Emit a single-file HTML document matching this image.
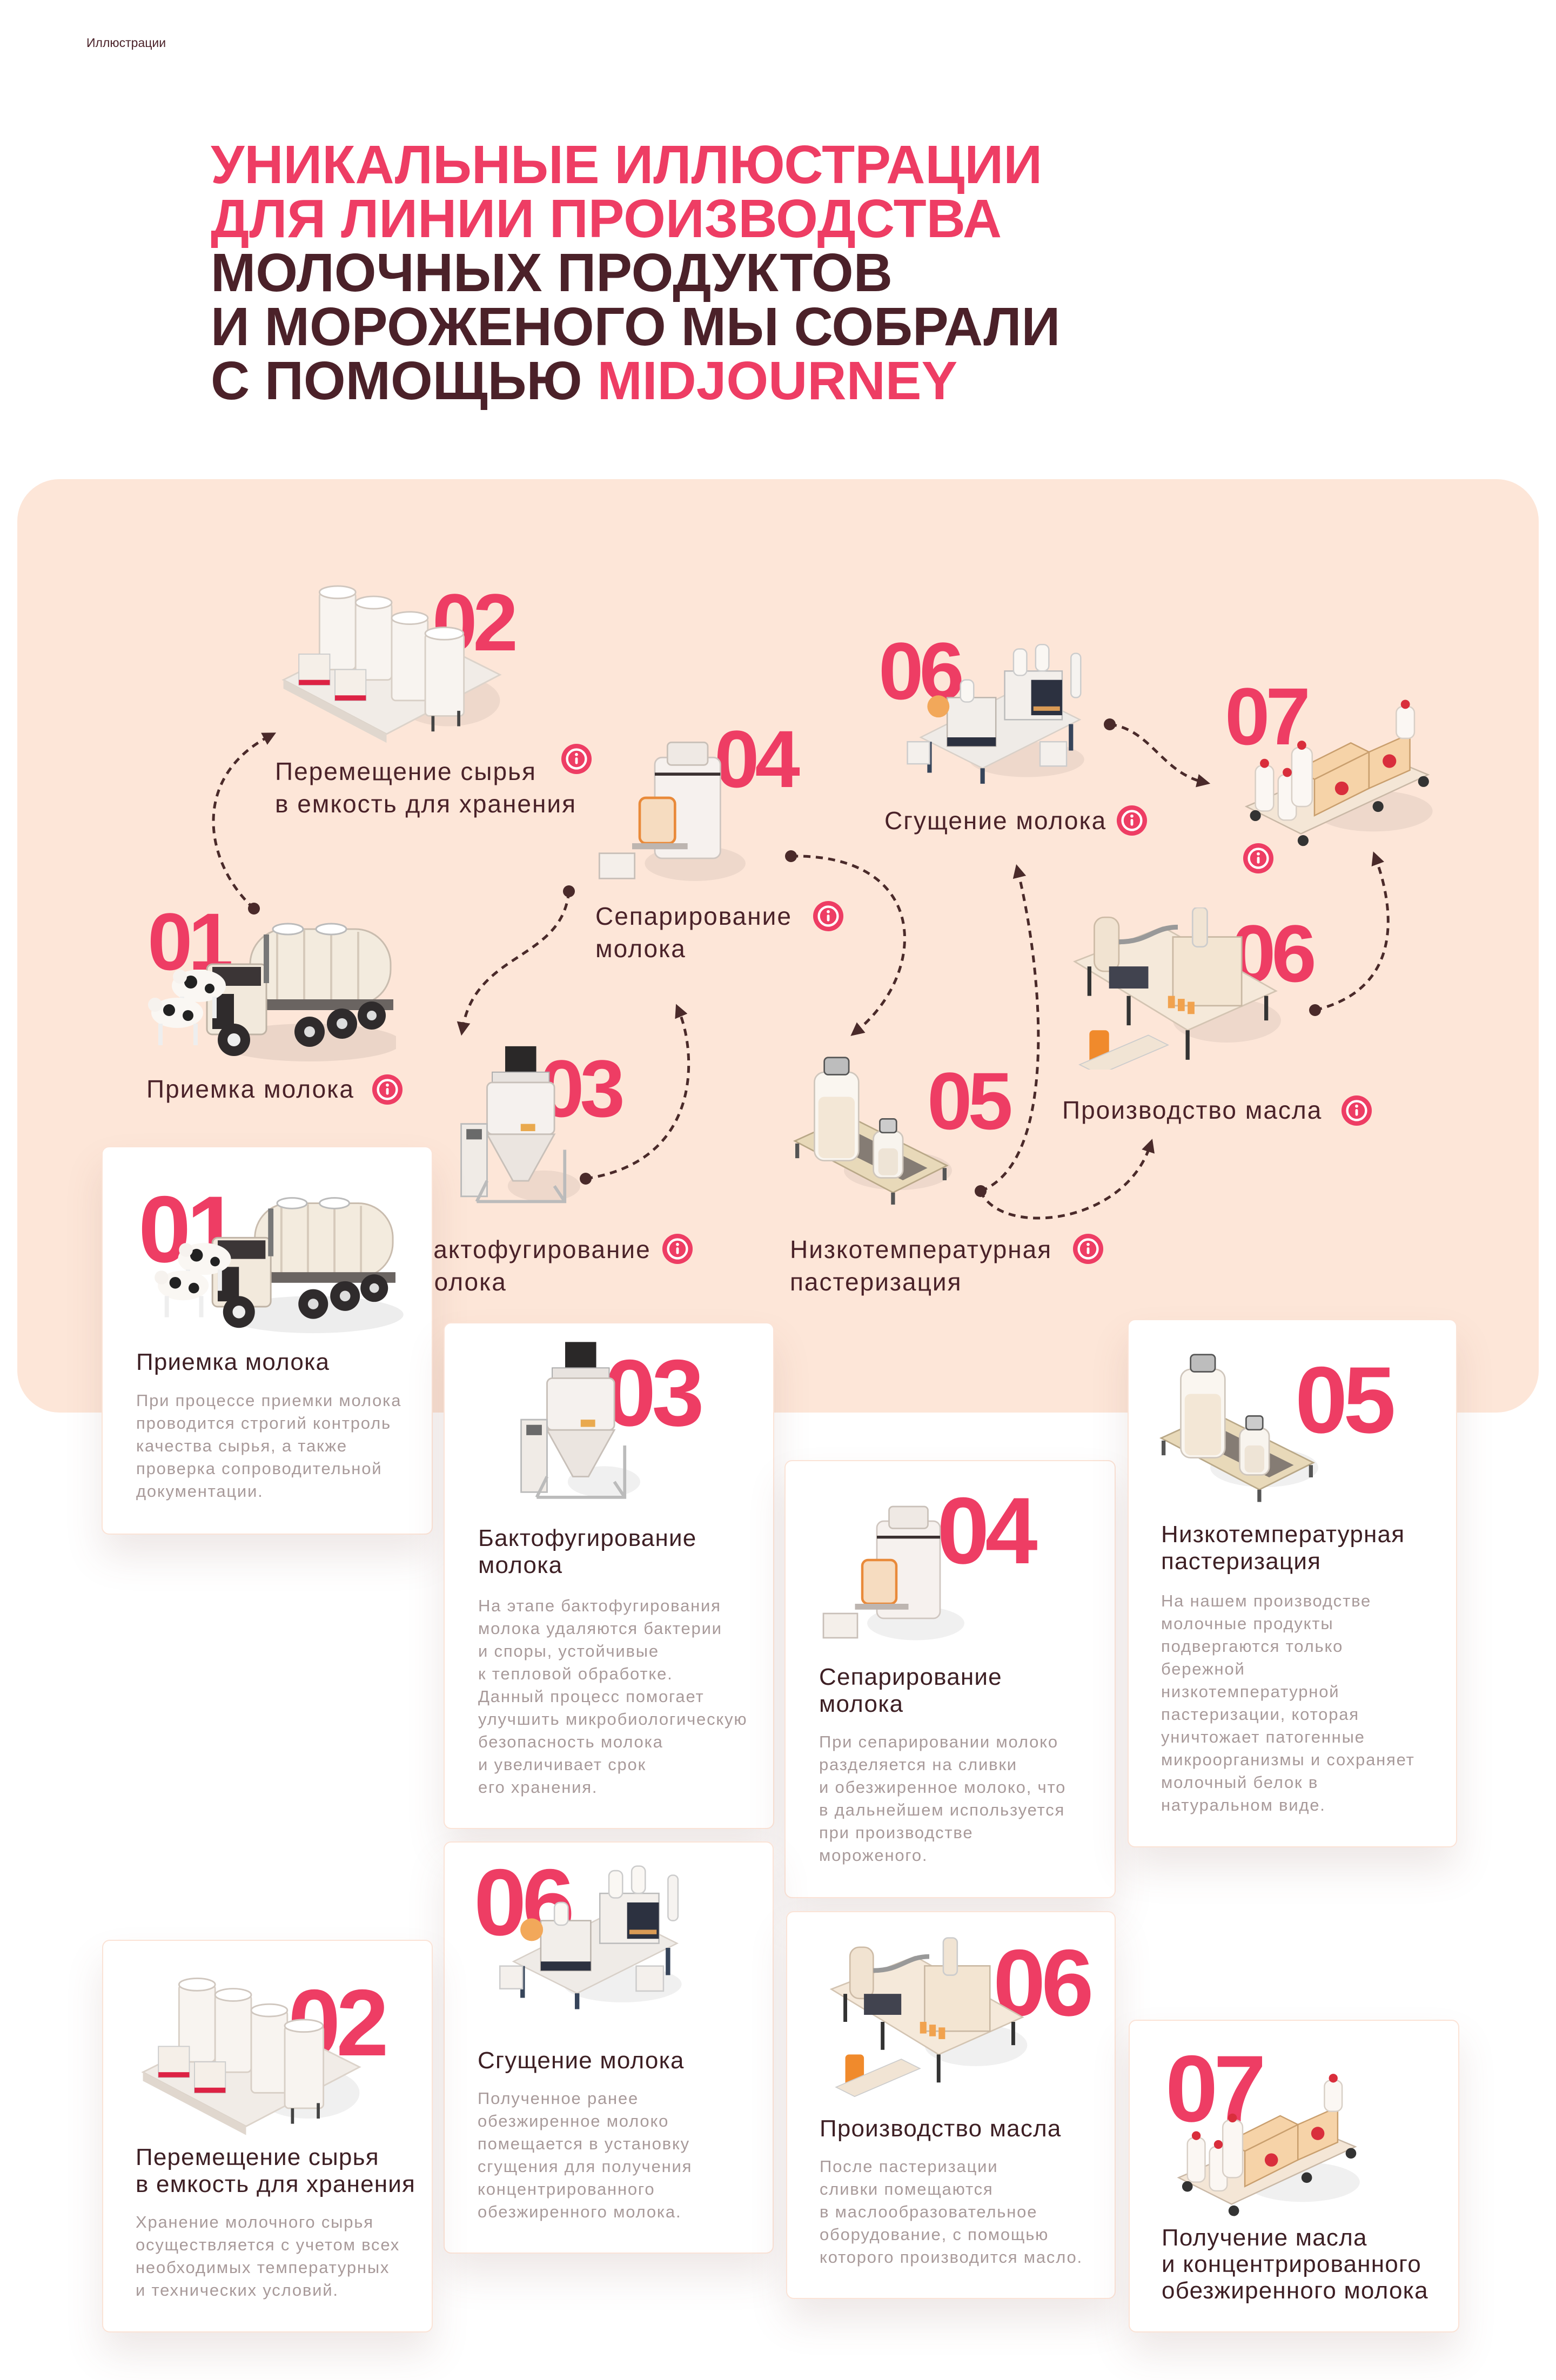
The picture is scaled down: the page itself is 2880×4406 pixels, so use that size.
<!DOCTYPE html>
<html><head><meta charset="utf-8">
<style>
*{margin:0;padding:0;box-sizing:border-box}
html,body{width:2880px;height:4406px;background:#fff;overflow:hidden}
body{position:relative;font-family:"Liberation Sans","DejaVu Sans",sans-serif}
.a{position:absolute}
.crumb{left:160px;top:66px;font-size:23px;color:#4a2229}
.title{left:390px;top:255px;font-size:100px;line-height:100px;font-weight:bold;color:#4b2129;white-space:nowrap;letter-spacing:0px}
.title .p{color:#ee3d64}
.panel{left:32px;top:887px;width:2816px;height:1728px;background:#fde6d8;border-radius:78px}
.num{position:absolute;font-weight:bold;color:#ee3d64;line-height:1;letter-spacing:-8px}
.pn{font-size:150px}
.cn{font-size:175px}
.lbl{position:absolute;font-size:46px;line-height:60px;color:#4a2229;letter-spacing:2px;white-space:nowrap}
.card{position:absolute;background:#fff;border:2px solid #fbe3d6;border-radius:14px;box-shadow:0 40px 70px rgba(120,80,70,.13);z-index:3}
.ct{position:absolute;font-size:44px;line-height:50px;color:#3d1f24;letter-spacing:1.2px;white-space:nowrap}
.cd{position:absolute;font-size:31px;line-height:42px;color:#a89a9a;letter-spacing:1.8px;white-space:nowrap}
svg.il{position:absolute;overflow:visible}
</style></head><body>
<svg width="0" height="0" style="position:absolute">
<defs>
<marker id="ar" viewBox="0 0 10 10" refX="5" refY="5" markerWidth="5" markerHeight="5" orient="auto"><path d="M0,0 L10,5 L0,10 z" fill="#4a2a2a"/></marker>
<symbol id="truck" viewBox="0 0 460 280">
<ellipse cx="300" cy="240" rx="170" ry="35" fill="#000" opacity=".07"/>
<rect x="190" y="30" width="260" height="140" rx="65" fill="#f3ebde" stroke="#c9bcae" stroke-width="3"/>
<path d="M240 35v130M290 32v136M340 32v136M390 35v130" stroke="#d6cabb" stroke-width="4"/>
<ellipse cx="260" cy="30" rx="28" ry="10" fill="#fff" stroke="#bbb" stroke-width="3"/>
<ellipse cx="340" cy="30" rx="28" ry="10" fill="#fff" stroke="#bbb" stroke-width="3"/>
<rect x="185" y="160" width="270" height="20" fill="#6a6461"/>
<rect x="110" y="95" width="110" height="130" rx="10" fill="#f2e9dc" stroke="#bfb3a5" stroke-width="3"/>
<rect x="120" y="100" width="90" height="35" fill="#3b3536"/>
<rect x="120" y="150" width="40" height="65" fill="#2f2b2c"/>
<rect x="215" y="40" width="10" height="90" fill="#777"/>
<circle cx="160" cy="235" r="30" fill="#2f2b2c"/><circle cx="160" cy="235" r="12" fill="#eee"/>
<circle cx="300" cy="220" r="28" fill="#2f2b2c"/><circle cx="300" cy="220" r="10" fill="#ddd"/>
<circle cx="360" cy="205" r="28" fill="#2f2b2c"/><circle cx="360" cy="205" r="10" fill="#ddd"/>
<circle cx="415" cy="190" r="26" fill="#2f2b2c"/><circle cx="415" cy="190" r="9" fill="#ddd"/>
<ellipse cx="95" cy="135" rx="50" ry="30" fill="#faf7f3"/><circle cx="80" cy="128" r="12" fill="#222"/><circle cx="115" cy="140" r="9" fill="#222"/>
<rect x="60" y="155" width="8" height="40" fill="#eee"/><rect x="120" y="155" width="8" height="40" fill="#eee"/>
<ellipse cx="55" cy="185" rx="48" ry="28" fill="#faf7f3"/><circle cx="40" cy="180" r="11" fill="#222"/><circle cx="75" cy="190" r="10" fill="#222"/>
<rect x="20" y="205" width="8" height="40" fill="#eee"/><rect x="85" y="205" width="8" height="40" fill="#eee"/>
<circle cx="14" cy="170" r="13" fill="#f6f2ee"/><circle cx="60" cy="118" r="13" fill="#f6f2ee"/>
</symbol>
<symbol id="tanks" viewBox="0 0 440 320">
<ellipse cx="330" cy="230" rx="100" ry="50" fill="#000" opacity=".06"/>
<polygon points="10,190 230,80 430,180 210,295" fill="#f1ece7" stroke="#dcd3ca" stroke-width="3"/>
<polygon points="10,190 210,295 210,312 10,207" fill="#e0d7ce"/>
<g fill="#f8f4f0" stroke="#d8cfc6" stroke-width="3">
<rect x="80" y="20" width="70" height="150" rx="8"/><rect x="150" y="40" width="70" height="150" rx="8"/>
<rect x="220" y="70" width="70" height="160" rx="8"/><rect x="285" y="100" width="75" height="160" rx="8"/>
</g>
<g fill="#fff" stroke="#d0c7bf" stroke-width="3"><ellipse cx="115" cy="20" rx="35" ry="12"/><ellipse cx="185" cy="40" rx="35" ry="12"/><ellipse cx="255" cy="70" rx="35" ry="12"/><ellipse cx="322" cy="100" rx="37" ry="12"/></g>
<rect x="40" y="140" width="60" height="60" fill="#f5efe8" stroke="#ccc" stroke-width="2"/><rect x="40" y="190" width="60" height="10" fill="#d24"/>
<rect x="110" y="170" width="60" height="60" fill="#f5efe8" stroke="#ccc" stroke-width="2"/><rect x="110" y="220" width="60" height="10" fill="#d24"/>
<path d="M300 260v30M350 250v30" stroke="#444" stroke-width="6"/>
</symbol>
<symbol id="sep" viewBox="0 0 300 300">
<ellipse cx="200" cy="250" rx="100" ry="35" fill="#000" opacity=".06"/>
<rect x="120" y="40" width="130" height="200" rx="14" fill="#f6f1ee" stroke="#cfc6c0" stroke-width="3"/>
<rect x="145" y="10" width="80" height="45" rx="8" fill="#efe9e4" stroke="#c9c0b8" stroke-width="3"/>
<rect x="120" y="70" width="130" height="6" fill="#3a3030"/>
<rect x="90" y="120" width="70" height="90" rx="12" fill="#f6dcc0" stroke="#e98a3a" stroke-width="5"/>
<rect x="75" y="210" width="110" height="12" fill="#bdb5b0"/>
<rect x="10" y="230" width="70" height="50" fill="#f4efea" stroke="#c8bfb8" stroke-width="3"/>
</symbol>
<symbol id="cond" viewBox="0 0 440 330">
<ellipse cx="300" cy="270" rx="130" ry="40" fill="#000" opacity=".06"/>
<polygon points="60,220 280,110 420,180 200,290" fill="#efebe7" stroke="#d8d0c8" stroke-width="3"/>
<path d="M80 230v70M200 290v35M400 190v60" stroke="#36445a" stroke-width="10"/>
<rect x="120" y="130" width="110" height="110" fill="#f2eeea" stroke="#bdb5ad" stroke-width="3"/>
<rect x="120" y="220" width="110" height="20" fill="#2c3140"/>
<rect x="250" y="70" width="130" height="110" fill="#f3efeb" stroke="#bbb" stroke-width="3"/>
<rect x="310" y="90" width="70" height="80" fill="#2c3140"/><rect x="315" y="150" width="60" height="10" fill="#d99a55"/>
<rect x="270" y="20" width="30" height="60" rx="12" fill="#faf7f3" stroke="#ccc" stroke-width="3"/>
<rect x="320" y="10" width="30" height="60" rx="12" fill="#faf7f3" stroke="#ccc" stroke-width="3"/>
<rect x="150" y="90" width="30" height="50" rx="12" fill="#faf7f3" stroke="#ccc" stroke-width="3"/>
<circle cx="100" cy="150" r="25" fill="#f2a85a"/>
<rect x="30" y="230" width="50" height="50" fill="#f4f0ec" stroke="#ccc" stroke-width="3"/>
<rect x="330" y="230" width="60" height="55" fill="#f4f0ec" stroke="#ccc" stroke-width="3"/>
<rect x="400" y="30" width="22" height="100" rx="10" fill="#f6f3f0" stroke="#ccc" stroke-width="3"/>
</symbol>
<symbol id="pallet" viewBox="0 0 440 330">
<ellipse cx="300" cy="250" rx="130" ry="45" fill="#000" opacity=".06"/>
<polygon points="20,240 300,120 420,170 140,300" fill="#f4e6d6" stroke="#c9b8a6" stroke-width="3"/>
<circle cx="40" cy="260" r="12" fill="#333"/><circle cx="145" cy="315" r="12" fill="#333"/><circle cx="310" cy="240" r="12" fill="#333"/><circle cx="410" cy="185" r="12" fill="#333"/>
<g fill="#f6d3a8" stroke="#c99f6e" stroke-width="3"><polygon points="170,180 290,120 290,200 170,260"/><polygon points="290,120 380,80 380,160 290,200"/><polygon points="170,180 290,120 250,100 130,160"/></g>
<circle cx="230" cy="200" r="15" fill="#d92e3c"/><circle cx="335" cy="140" r="15" fill="#d92e3c"/>
<g fill="#fbf7f3" stroke="#d8cfc6" stroke-width="3"><rect x="40" y="150" width="40" height="100" rx="14"/><rect x="90" y="170" width="40" height="100" rx="14"/><rect x="120" y="110" width="45" height="130" rx="16"/><rect x="350" y="20" width="40" height="70" rx="14"/></g>
<g fill="#d92e3c"><circle cx="60" cy="145" r="10"/><circle cx="110" cy="165" r="10"/><circle cx="142" cy="105" r="10"/><circle cx="370" cy="15" r="10"/></g>
</symbol>
<symbol id="butter" viewBox="0 0 440 330">
<ellipse cx="320" cy="230" rx="110" ry="45" fill="#000" opacity=".06"/>
<polygon points="10,110 190,40 420,170 240,250" fill="#f5e9da" stroke="#d3c4b2" stroke-width="3"/>
<path d="M40 120v60M240 250v60M400 180v50M120 180v60" stroke="#333" stroke-width="8"/>
<rect x="50" y="20" width="50" height="110" rx="20" fill="#f1e3d1" stroke="#cdbba6" stroke-width="3"/>
<path d="M100 70 C160 70 170 40 220 40" stroke="#999" stroke-width="10" fill="none"/>
<rect x="210" y="60" width="140" height="140" fill="#f3e5d2" stroke="#c9b8a3" stroke-width="3"/>
<rect x="250" y="0" width="30" height="80" rx="10" fill="#f1e4d3" stroke="#ccc" stroke-width="3"/>
<rect x="80" y="120" width="80" height="45" fill="#41434f"/>
<g fill="#f1a24e"><rect x="200" y="180" width="14" height="25"/><rect x="220" y="186" width="14" height="25"/><rect x="240" y="192" width="14" height="25"/></g>
<rect x="40" y="250" width="40" height="70" rx="8" fill="#f08a2c"/>
<polygon points="20,320 160,260 200,280 60,340" fill="#f1e4d4" stroke="#ccc" stroke-width="2"/>
</symbol>
<symbol id="bacto" viewBox="0 0 240 330">
<ellipse cx="170" cy="270" rx="70" ry="30" fill="#000" opacity=".06"/>
<rect x="95" y="0" width="60" height="50" fill="#2a2828"/>
<rect x="70" y="50" width="110" height="20" fill="#e8e3df" stroke="#aaa" stroke-width="2"/>
<rect x="60" y="70" width="130" height="100" rx="10" fill="#f5f1ee" stroke="#c8c0b9" stroke-width="3"/>
<polygon points="60,170 190,170 140,260 110,260" fill="#ebe5e0" stroke="#c8c0b9" stroke-width="3"/>
<rect x="10" y="150" width="50" height="140" fill="#f0ebe6" stroke="#bbb" stroke-width="3"/>
<rect x="20" y="160" width="30" height="20" fill="#6a6a6a"/>
<path d="M40 300h170v-100M40 300l20-40M210 300l-20-30" stroke="#bbb" stroke-width="6" fill="none"/>
<rect x="125" y="150" width="28" height="14" fill="#e9a94e"/>
</symbol>
<symbol id="bottles" viewBox="0 0 330 300">
<ellipse cx="220" cy="240" rx="110" ry="40" fill="#000" opacity=".06"/>
<polygon points="10,180 120,130 320,230 210,285" fill="#e8d9b9" stroke="#b9a888" stroke-width="3"/>
<polygon points="70,180 120,155 280,235 230,260" fill="#857c74"/>
<path d="M15 185v30M210 285v25M315 235v25" stroke="#555" stroke-width="8"/>
<rect x="50" y="40" width="90" height="180" rx="20" fill="#faf6f0" stroke="#cfc6bc" stroke-width="3"/>
<rect x="58" y="90" width="74" height="125" rx="12" fill="#f3e7d6"/>
<rect x="70" y="10" width="50" height="35" rx="8" fill="#bdbdbd" stroke="#555" stroke-width="3"/>
<rect x="170" y="160" width="60" height="95" rx="16" fill="#f8f4ee" stroke="#cfc6bc" stroke-width="3"/>
<rect x="180" y="195" width="40" height="55" rx="10" fill="#eee4d6"/>
<rect x="183" y="135" width="34" height="28" rx="6" fill="#ccc" stroke="#555" stroke-width="3"/>
</symbol>
<symbol id="info" viewBox="0 0 60 60">
<circle cx="30" cy="30" r="29" fill="#ee3d64"/><circle cx="30" cy="30" r="18" fill="none" stroke="#fff" stroke-width="4.5"/>
<rect x="27.5" y="27" width="5" height="13" rx="2.5" fill="#fff"/><circle cx="30" cy="21.5" r="3" fill="#fff"/>
</symbol>
</defs></svg>

<div class="a crumb">Иллюстрации</div>
<div class="a title"><span class="p">УНИКАЛЬНЫЕ ИЛЛЮСТРАЦИИ</span><br><span class="p">ДЛЯ ЛИНИИ ПРОИЗВОДСТВА</span><br>МОЛОЧНЫХ ПРОДУКТОВ<br>И МОРОЖЕНОГО МЫ СОБРАЛИ<br>С ПОМОЩЬЮ <span class="p">MIDJOURNEY</span></div>

<div class="a panel"></div>

<div class="num pn" style="left:800px;top:1077px">02</div>
<div class="num pn" style="left:1322px;top:1330px">04</div>
<div class="num pn" style="left:1626px;top:1167px">06</div>
<div class="num pn" style="left:2267px;top:1251px">07</div>
<div class="num pn" style="left:273px;top:1668px">01</div>
<div class="num pn" style="left:2278px;top:1690px">06</div>
<div class="num pn" style="left:998px;top:1940px">03</div>
<div class="num pn" style="left:1716px;top:1963px">05</div>

<svg class="il" style="left:515px;top:1070px" width="420" height="320"><use href="#tanks" width="420" height="320"/></svg>
<svg class="il" style="left:1100px;top:1360px" width="280" height="290"><use href="#sep" width="280" height="290"/></svg>
<svg class="il" style="left:1655px;top:1160px" width="360" height="320"><use href="#cond" width="360" height="320"/></svg>
<svg class="il" style="left:2290px;top:1280px" width="370" height="300"><use href="#pallet" width="370" height="300"/></svg>
<svg class="il" style="left:273px;top:1690px" width="460" height="280"><use href="#truck" width="460" height="280"/></svg>
<svg class="il" style="left:1980px;top:1680px" width="400" height="300"><use href="#butter" width="400" height="300"/></svg>
<svg class="il" style="left:844px;top:1935px" width="230" height="320"><use href="#bacto" width="230" height="320"/></svg>
<svg class="il" style="left:1462px;top:1940px" width="300" height="290"><use href="#bottles" width="300" height="290"/></svg>

<svg class="il" style="left:0;top:0" width="2880" height="4406">
<g fill="none" stroke="#4a2a2a" stroke-width="5" stroke-dasharray="13 10" marker-end="url(#ar)">
<path d="M470,1682 C380,1600 350,1440 500,1362"/>
<path d="M1053,1650 C1040,1780 880,1760 856,1905"/>
<path d="M1464,1585 C1720,1580 1720,1800 1584,1910"/>
<path d="M1084,2182 C1300,2150 1290,1950 1256,1870"/>
<path d="M2054,1341 C2130,1350 2150,1430 2228,1448"/>
<path d="M1815,2205 C1960,2150 1930,1800 1884,1612"/>
<path d="M1815,2205 C1850,2290 2080,2270 2129,2120"/>
<path d="M2434,1870 C2600,1830 2580,1680 2546,1588"/>
</g>
<g fill="#4a2a2a"><circle cx="470" cy="1682" r="11"/><circle cx="1053" cy="1650" r="11"/><circle cx="1464" cy="1585" r="11"/><circle cx="1084" cy="2182" r="11"/><circle cx="2054" cy="1341" r="11"/><circle cx="1815" cy="2205" r="11"/><circle cx="2434" cy="1870" r="11"/></g>
<use href="#info" x="1038" y="1376" width="58" height="58"/>
<use href="#info" x="1504" y="1667" width="58" height="58"/>
<use href="#info" x="2066" y="1490" width="58" height="58"/>
<use href="#info" x="2300" y="1560" width="58" height="58"/>
<use href="#info" x="688" y="1988" width="58" height="58"/>
<use href="#info" x="2482" y="2027" width="58" height="58"/>
<use href="#info" x="1225" y="2283" width="58" height="58"/>
<use href="#info" x="1985" y="2283" width="58" height="58"/>
</svg>

<div class="lbl" style="left:509px;top:1398px">Перемещение сырья<br>в емкость для хранения</div>
<div class="lbl" style="left:1102px;top:1666px">Сепарирование<br>молока</div>
<div class="lbl" style="left:1637px;top:1489px">Сгущение молока</div>
<div class="lbl" style="left:271px;top:1986px">Приемка молока</div>
<div class="lbl" style="left:1966px;top:2025px">Производство масла</div>
<div class="lbl" style="left:770px;top:2283px">Бактофугирование<br>молока</div>
<div class="lbl" style="left:1462px;top:2283px">Низкотемпературная<br>пастеризация</div>

<div class="card" style="left:188px;top:2122px;width:613px;height:719px"></div>
<div class="card" style="left:821px;top:2448px;width:612px;height:938px"></div>
<div class="card" style="left:1452px;top:2703px;width:613px;height:811px"></div>
<div class="card" style="left:2087px;top:2442px;width:610px;height:978px"></div>
<div class="card" style="left:821px;top:3409px;width:611px;height:763px"></div>
<div class="card" style="left:189px;top:3591px;width:612px;height:727px"></div>
<div class="card" style="left:1455px;top:3538px;width:610px;height:718px"></div>
<div class="card" style="left:2089px;top:3739px;width:612px;height:579px"></div>

<div style="position:absolute;left:0;top:0;z-index:4">
<div class="num cn" style="left:256px;top:2189px">01</div>
<div class="num cn" style="left:1117px;top:2492px">03</div>
<div class="num cn" style="left:1734px;top:2747px">04</div>
<div class="num cn" style="left:2397px;top:2505px">05</div>
<div class="num cn" style="left:533px;top:3658px">02</div>
<div class="num cn" style="left:877px;top:3435px">06</div>
<div class="num cn" style="left:1838px;top:3584px">06</div>
<div class="num cn" style="left:2157px;top:3780px">07</div>

<svg class="il" style="left:246px;top:2198px" width="530" height="275"><use href="#truck" width="530" height="275"/></svg>
<svg class="il" style="left:955px;top:2480px" width="230" height="325"><use href="#bacto" width="230" height="325"/></svg>
<svg class="il" style="left:1515px;top:2770px" width="270" height="290"><use href="#sep" width="270" height="290"/></svg>
<svg class="il" style="left:2140px;top:2480px" width="300" height="310"><use href="#bottles" width="300" height="310"/></svg>
<svg class="il" style="left:255px;top:3650px" width="420" height="315"><use href="#tanks" width="420" height="315"/></svg>
<svg class="il" style="left:900px;top:3430px" width="370" height="310"><use href="#cond" width="370" height="310"/></svg>
<svg class="il" style="left:1530px;top:3570px" width="380" height="320"><use href="#butter" width="380" height="320"/></svg>
<svg class="il" style="left:2165px;top:3835px" width="360" height="270"><use href="#pallet" width="360" height="270"/></svg>

<div class="ct" style="left:252px;top:2497px">Приемка молока</div>
<div class="cd" style="left:252px;top:2572px">При процессе приемки молока<br>проводится строгий контроль<br>качества сырья, а также<br>проверка сопроводительной<br>документации.</div>

<div class="ct" style="left:885px;top:2823px">Бактофугирование<br>молока</div>
<div class="cd" style="left:885px;top:2952px">На этапе бактофугирования<br>молока удаляются бактерии<br>и споры, устойчивые<br>к тепловой обработке.<br>Данный процесс помогает<br>улучшить микробиологическую<br>безопасность молока<br>и увеличивает срок<br>его хранения.</div>

<div class="ct" style="left:1516px;top:3080px">Сепарирование<br>молока</div>
<div class="cd" style="left:1516px;top:3204px">При сепарировании молоко<br>разделяется на сливки<br>и обезжиренное молоко, что<br>в дальнейшем используется<br>при производстве<br>мороженого.</div>

<div class="ct" style="left:2149px;top:2816px">Низкотемпературная<br>пастеризация</div>
<div class="cd" style="left:2149px;top:2943px">На нашем производстве<br>молочные продукты<br>подвергаются только<br>бережной<br>низкотемпературной<br>пастеризации, которая<br>уничтожает патогенные<br>микроорганизмы и сохраняет<br>молочный белок в<br>натуральном виде.</div>

<div class="ct" style="left:884px;top:3790px">Сгущение молока</div>
<div class="cd" style="left:884px;top:3864px">Полученное ранее<br>обезжиренное молоко<br>помещается в установку<br>сгущения для получения<br>концентрированного<br>обезжиренного молока.</div>

<div class="ct" style="left:251px;top:3969px">Перемещение сырья<br>в емкость для хранения</div>
<div class="cd" style="left:251px;top:4093px">Хранение молочного сырья<br>осуществляется с учетом всех<br>необходимых температурных<br>и технических условий.</div>

<div class="ct" style="left:1517px;top:3916px">Производство масла</div>
<div class="cd" style="left:1517px;top:3990px">После пастеризации<br>сливки помещаются<br>в маслообразовательное<br>оборудование, с помощью<br>которого производится масло.</div>

<div class="ct" style="left:2150px;top:4118px;line-height:49px">Получение масла<br>и концентрированного<br>обезжиренного молока</div>
</div>
</body></html>
